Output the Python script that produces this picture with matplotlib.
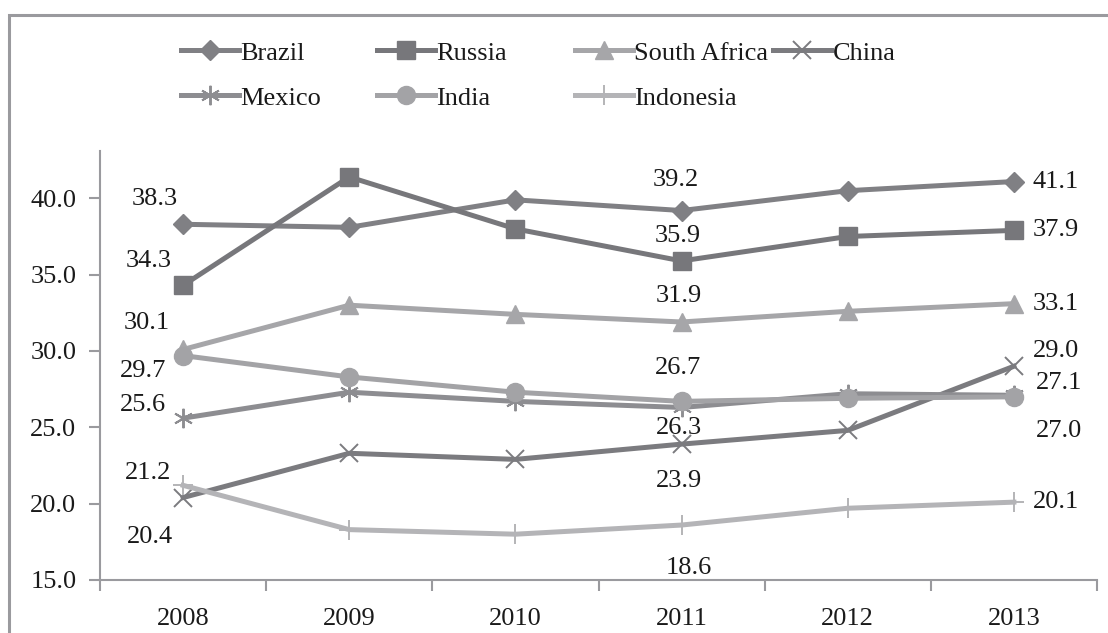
import matplotlib
matplotlib.use('Agg')
import matplotlib.pyplot as plt
from matplotlib.patches import Rectangle

plt.rcParams['font.family'] = ['Liberation Serif', 'DejaVu Serif']

# ── Datos ────────────────────────────────────────────────────────────────
years = ['2008', '2009', '2010', '2011', '2012', '2013']

brazil       = [38.3, 38.1, 39.9, 39.2, 40.5, 41.1]
russia       = [34.3, 41.4, 38.0, 35.9, 37.5, 37.9]
south_africa = [30.1, 33.0, 32.4, 31.9, 32.6, 33.1]
china        = [20.4, 23.3, 22.9, 23.9, 24.8, 29.0]
mexico       = [25.6, 27.3, 26.7, 26.3, 27.2, 27.1]
india        = [29.7, 28.3, 27.3, 26.7, 26.9, 27.0]
indonesia    = [21.2, 18.3, 18.0, 18.6, 19.7, 20.1]

names = ['Brazil', 'Russia', 'South Africa', 'China', 'Mexico', 'India', 'Indonesia']
series = [brazil, russia, south_africa, china, mexico, india, indonesia]

FS = 19

# estilo por serie: color, marcador, tamaño, grosor borde
estilos = [
    ('#808084', 'D', 10, 1.0),
    ('#77777b', 's', 13, 1.0),
    ('#a6a6a9', '^', 13, 1.0),
    ('#7b7b7f', 'x', 13, 1.4),
    ('#8d8d91', (6, 2, 0), 14, 1.4),
    ('#a3a3a6', 'o', 13, 1.0),
    ('#b4b4b7', '+', 14, 1.4),
]

# etiquetas: (serie, índice del año, desplazamiento en px)
etiquetas = [
    (0, 0, (-28, 25)), (1, 0, (-34, 24)), (2, 0, (-36, 26)), (5, 0, (-40, -15)),
    (4, 0, (-40, 13)), (6, 0, (-35, 12)), (3, 0, (-33, -39)),
    (0, 3, (-6, 31)), (1, 3, (-4, 25)), (2, 3, (-3, 26)), (5, 3, (-4, 33)),
    (4, 3, (-3, -21)), (3, 3, (-3, -37)), (6, 3, (7, -43)),
    (0, 5, (42, 0)), (1, 5, (42, 0)), (2, 5, (42, 0)), (3, 5, (42, 15)),
    (4, 5, (45, 12)), (5, 5, (45, -34)), (6, 5, (42, 0)),
]

W, H = 1108, 633
fig = plt.figure(figsize=(W / 100, H / 100), dpi=100)
ax = fig.add_axes([100 / W, 1 - 580 / H, 997 / W, 429 / H])

x = range(len(years))
lineas = []
for nombre, vals, (col, mk, ms, mew) in zip(names, series, estilos):
    ln, = ax.plot(x, vals, color=col, lw=3.6, marker=mk, ms=ms,
                  mew=mew, mec=col, mfc=col, label=nombre)
    lineas.append(ln)

for si, yi, off in etiquetas:
    v = series[si][yi]
    ax.annotate(f'{v:.1f}', (yi, v), xytext=off, textcoords='offset pixels',
                ha='center', va='center', fontsize=FS, color='#1a1a1a')

ax.set_xlim(-0.5, 5.5)
ax.set_ylim(15, 43.1)
ax.set_yticks([15, 20, 25, 30, 35, 40])
ax.set_yticklabels([f'{t:.1f}' for t in [15, 20, 25, 30, 35, 40]])
ax.set_xticks([i - 0.5 for i in range(7)], minor=False)
ax.set_xticklabels([])
ax.set_xticks(list(x), minor=True)
ax.set_xticklabels(years, minor=True)
ax.tick_params(axis='x', which='minor', length=0, pad=20, labelsize=FS, labelcolor='#1a1a1a')
ax.tick_params(axis='x', which='major', length=8, width=1.5, color='#9a9a9e')
ax.tick_params(axis='y', length=8, width=1.5, color='#9a9a9e', labelsize=FS,
               labelcolor='#1a1a1a', pad=9)

for s in ['top', 'right']:
    ax.spines[s].set_visible(False)
for s in ['left', 'bottom']:
    ax.spines[s].set_color('#9a9a9e')
    ax.spines[s].set_linewidth(1.5)

# leyenda, una entrada por posición
pos_leyenda = [(181, 53), (377, 53), (575, 53), (773, 53),
               (181, 98), (377, 98), (575, 98)]
for ln, (px, py) in zip(lineas, pos_leyenda):
    lg = fig.legend(handles=[ln], loc='center left',
                    bbox_to_anchor=(px / W, 1 - py / H), frameon=False,
                    borderpad=0, borderaxespad=0, handlelength=2.2,
                    handletextpad=0.05, fontsize=FS)
    for t in lg.get_texts():
        t.set_color('#1a1a1a')

# marco exterior
fig.patches.append(Rectangle((9 / W, -0.2), 1.2, 1.2 - 15 / H,
                             transform=fig.transFigure, fill=False,
                             ec='#9a9a9e', lw=2.2))

fig.savefig('out.png', dpi=100)
